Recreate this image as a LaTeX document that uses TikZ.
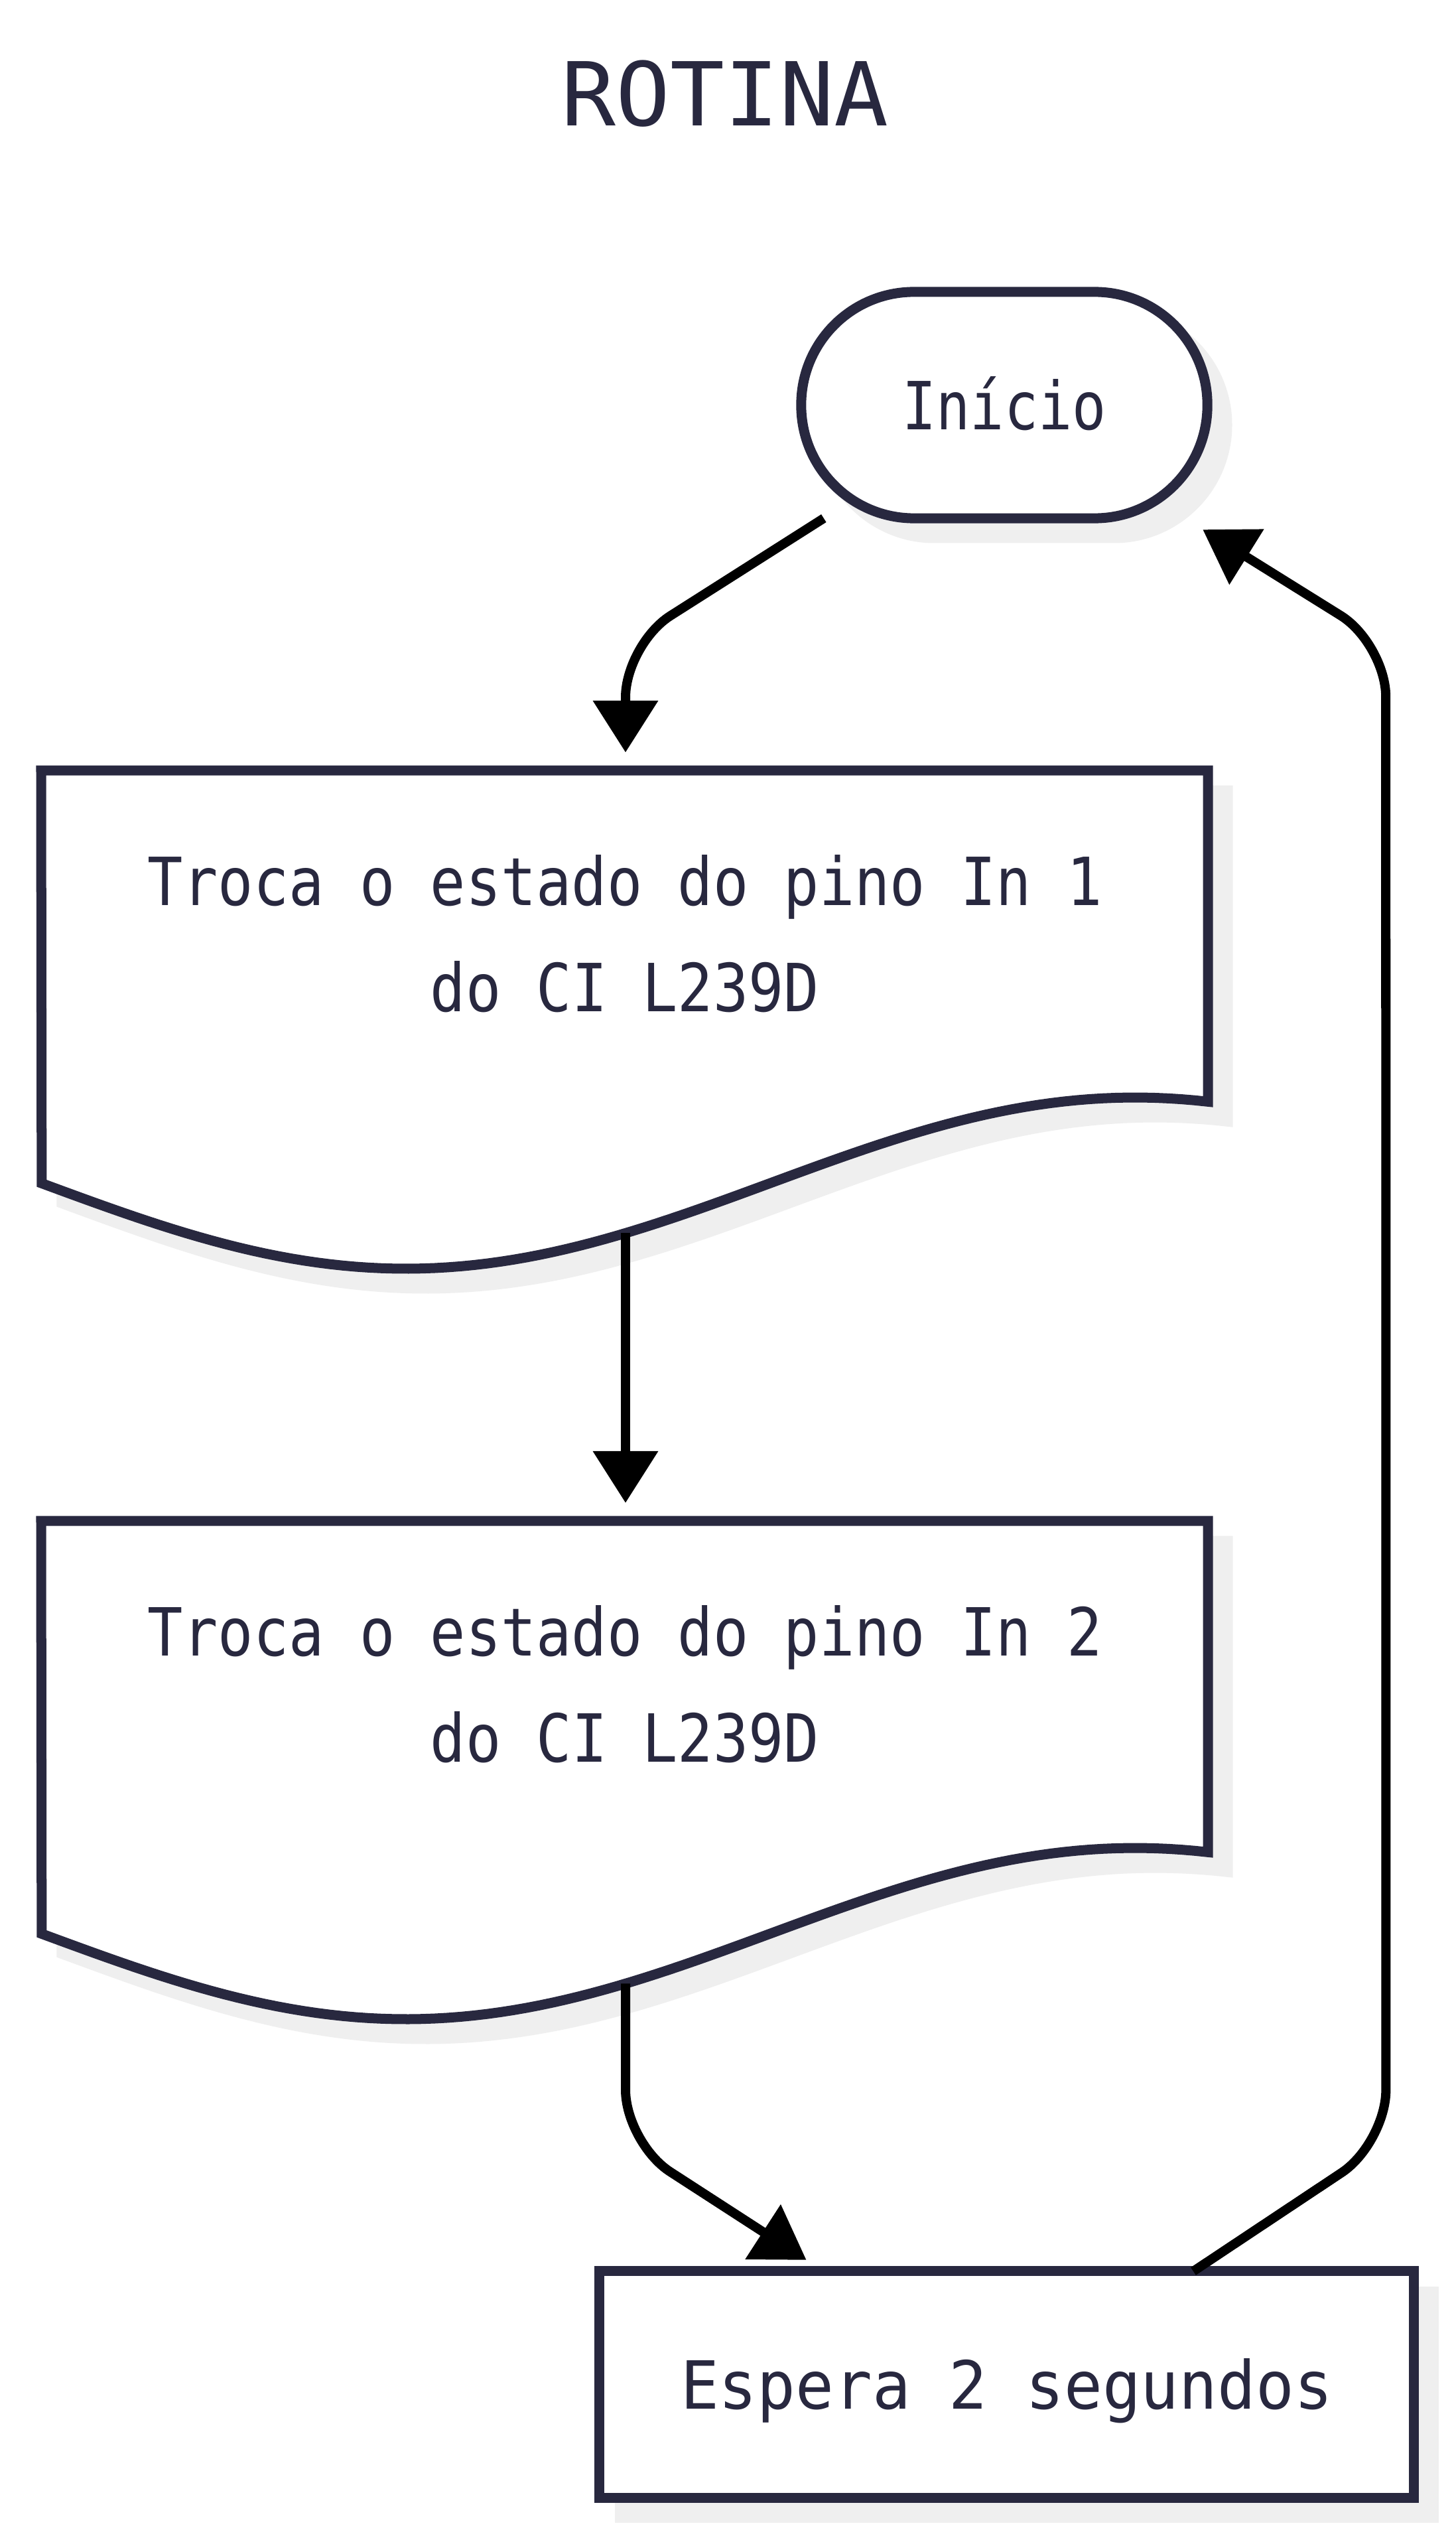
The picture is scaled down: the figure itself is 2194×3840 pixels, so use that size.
\documentclass[tikz,border=0pt]{standalone}
\usepackage{fontspec}
\usetikzlibrary{arrows.meta,calc}
\newfontfamily\boxfont[FakeStretch=0.885]{DejaVu Sans Mono}
\newfontfamily\inifont[FakeStretch=0.85]{DejaVu Sans Mono}
\newfontfamily\espfont[FakeStretch=0.96]{DejaVu Sans Mono}
\newfontfamily\ttlfont[FakeStretch=1.025]{DejaVu Sans Mono}
\definecolor{ink}{HTML}{28283F}
\definecolor{shadowgray}{HTML}{EFEFEF}
\newcommand\docpath[1]{(62,{1161+#1}) -- (1821,{1161+#1}) -- (1821,{1660+#1}) -- plot[domain=1:0,samples=90] ({62+1759*\x},{1783+#1+129*sin(288*\x)}) -- cycle}
\begin{document}
\begin{tikzpicture}[x=0.01cm,y=-0.01cm,
  shapeline/.style={draw=ink, line width=0.15cm, fill=white},
  conn/.style={draw=black, line width=0.14cm, rounded corners=0.8cm, -{Triangle[length=0.78cm,width=0.95cm]}},
  lbl/.style={text=ink, font=\boxfont\fontsize{28.45pt}{45.5pt}\selectfont, align=center, inner sep=0pt, outer sep=0pt}]
\fill[white] (0,0) rectangle (2194,3840);
\useasboundingbox (0,0) rectangle (2194,3840);

\node[text=ink, font=\ttlfont\fontsize{37.8pt}{45pt}\selectfont, anchor=base, inner sep=0pt] (title) at (1093,190) {ROTINA};

% shadows
\fill[shadowgray, rounded corners=1.78cm] (1230.5,462.5) rectangle (1857.5,818.5);
\path[fill=shadowgray, draw=shadowgray, line width=0.15cm, shift={(30,30)}] \docpath{0};
\path[fill=shadowgray, draw=shadowgray, line width=0.15cm, shift={(30,30)}] \docpath{1131};
\fill[shadowgray] (926.5,3445.5) rectangle (2168.5,3801.5);

% shapes
\node[shapeline, lbl, font=\inifont\fontsize{28.45pt}{45.5pt}\selectfont, rounded corners=1.7cm, minimum width=6.12cm, minimum height=3.41cm, text height=0.73cm, text depth=0pt] (ini) at (1514,610.5) {Início};
\draw[shapeline] \docpath{0};
\draw[shapeline] \docpath{1131};
\coordinate (b1-in) at (943,1161);
\coordinate (b1-out) at (943,1858.4);
\coordinate (b2-in) at (943,2292);
\coordinate (b2-out) at (943,2989.4);
\node[lbl] (b1) at (942,1407) {Troca o estado do pino In 1\\do CI L239D};
\node[lbl] (b2) at (942,2538) {Troca o estado do pino In 2\\do CI L239D};
\node[shapeline, lbl, font=\espfont\fontsize{28.45pt}{45.5pt}\selectfont, minimum width=12.27cm, minimum height=3.41cm, text height=0.73cm, text depth=0pt] (b3) at (1517.5,3593.5) {Espera 2 segundos};

% connectors
\draw[conn] ($(ini.south west)+(34,0)$) -- ($(b1-in)+(0,-190)$) -- ($(b1-in)+(0,-27)$);
\draw[conn] (b1-out) -- ($(b2-in)+(0,-27)$);
\draw[conn] (b2-out) -- ($(b2-out)+(0,240)$) -- ($(b3.north west)+(312,-17)$);
\draw[conn] ($(b3.north)+(281.5,0)$) -- ($(b3.north east)+(-42,-193)$) -- ($(ini.south east)+(269,189)$) -- ($(ini.south east)+(-7,17)$);
\end{tikzpicture}
\end{document}
